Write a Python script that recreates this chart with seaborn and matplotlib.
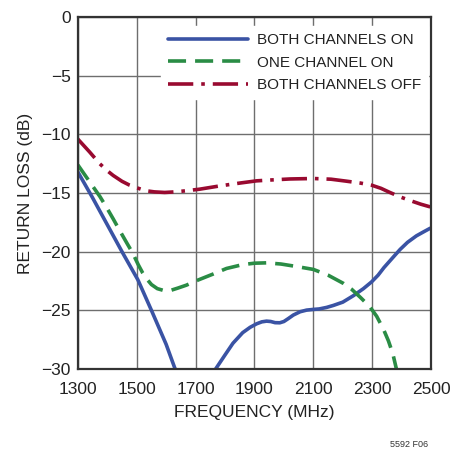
import numpy as np
import pandas as pd
import seaborn as sns
import matplotlib.pyplot as plt

# values
freq_on = [1300, 1350, 1400, 1450, 1504, 1550, 1600, 1629, 1660, 1700, 1740, 1768, 1800, 1827, 1860, 1885,
           1907, 1925, 1941, 1955, 1970, 1986, 2000, 2015, 2032, 2055, 2077, 2100, 2120, 2145, 2168, 2200,
           2236, 2270, 2298, 2320, 2340, 2370, 2395, 2420, 2450, 2475, 2497]
rl_on = [-13.2, -15.4, -17.7, -20.0, -22.4, -25.0, -27.9, -29.9, -31.5, -32.6, -31.6, -30.0, -28.8, -27.8,
         -26.9, -26.45, -26.15, -25.98, -25.92, -25.95, -26.05, -26.06, -25.95, -25.7, -25.4, -25.12, -24.98,
         -24.92, -24.88, -24.75, -24.58, -24.3, -23.75, -23.15, -22.57, -22.0, -21.35, -20.5, -19.8, -19.2,
         -18.65, -18.3, -18.0]

freq_one = [1300, 1325, 1350, 1375, 1397, 1420, 1440, 1465, 1487, 1505, 1520, 1535, 1550, 1570, 1595, 1615,
            1640, 1669, 1700, 1730, 1760, 1805, 1860, 1900, 1941, 1990, 2040, 2100, 2150, 2202, 2230, 2260,
            2292, 2315, 2338, 2355, 2370, 2385]
rl_one = [-12.6, -13.5, -14.4, -15.3, -16.2, -17.2, -18.1, -19.2, -20.15, -21.1, -21.8, -22.35, -22.8,
          -23.15, -23.33, -23.3, -23.1, -22.85, -22.5, -22.2, -21.9, -21.43, -21.1, -20.98, -20.95, -21.05,
          -21.25, -21.51, -22.0, -22.7, -23.2, -23.9, -24.7, -25.5, -26.6, -27.6, -28.7, -30.3]

freq_off = [1300, 1320, 1340, 1374, 1400, 1420, 1450, 1476, 1500, 1530, 1560, 1595, 1630, 1670, 1714, 1780,
            1850, 1907, 1960, 2020, 2100, 2160, 2213, 2260, 2298, 2330, 2360, 2395, 2430, 2465, 2497]
rl_off = [-10.4, -10.95, -11.5, -12.49, -13.1, -13.5, -14.0, -14.33, -14.55, -14.8, -14.9, -14.95, -14.9,
          -14.8, -14.67, -14.4, -14.15, -13.96, -13.88, -13.8, -13.76, -13.82, -13.99, -14.15, -14.33, -14.6,
          -14.95, -15.33, -15.65, -15.95, -16.18]

labels = ['BOTH CHANNELS ON', 'ONE CHANNEL ON', 'BOTH CHANNELS OFF']
colors = ['#3a53a4', '#2a8c45', '#990a30']

sns.set_style('white')
plt.rcParams['font.family'] = ['Liberation Sans', 'DejaVu Sans']

fig = plt.figure(figsize=(4.5, 4.5), dpi=100)
ax = fig.add_axes([0.173, 0.18, 0.785, 0.782])

sns.lineplot(x=freq_on, y=rl_on, ax=ax, color=colors[0], lw=2.6, label=labels[0])
sns.lineplot(x=freq_one, y=rl_one, ax=ax, color=colors[1], lw=2.6, label=labels[1])
sns.lineplot(x=freq_off, y=rl_off, ax=ax, color=colors[2], lw=2.6, label=labels[2])

ax.lines[1].set_dashes([5, 2.5])
ax.lines[2].set_dashes([7, 2.2, 1, 2.2])

ax.set_xlim(1300, 2500)
ax.set_ylim(-30, 0)
ax.set_xticks(range(1300, 2501, 200))
ax.set_yticks(range(-30, 1, 5))
ax.grid(True, color='#6e6e6e', lw=1)
ax.set_axisbelow(True)
for s in ax.spines.values():
    s.set_color('#333333')
    s.set_linewidth(1.6)
ax.tick_params(length=0, labelsize=12.5, colors='#222222')
ax.tick_params(axis='x', pad=9)
ax.tick_params(axis='y', pad=5)
ax.set_xlabel('FREQUENCY (MHz)', fontsize=12.5, color='#222222', labelpad=6)
ax.set_ylabel('RETURN LOSS (dB)', fontsize=12.5, color='#222222', labelpad=6)

leg = ax.legend(loc='upper right', bbox_to_anchor=(1.012, 0.995), frameon=True, fancybox=False,
                fontsize=11, handlelength=5.2, handletextpad=0.6, labelspacing=0.55, borderpad=0.45)
leg.get_frame().set_edgecolor('white')
leg.get_frame().set_facecolor('white')
leg.get_frame().set_alpha(1)
for t in leg.get_texts():
    t.set_color('#222222')

fig.text(0.91, 0.003, '5592 F06', fontsize=6.5, ha='center', va='bottom', color='#333333')

fig.savefig('out.png', dpi=100)
